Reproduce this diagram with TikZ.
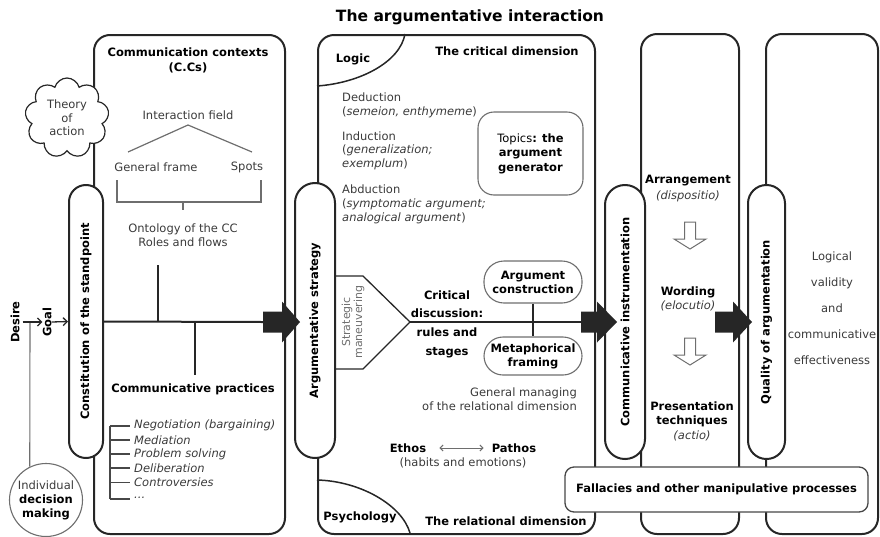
\documentclass[tikz,border=0pt]{standalone}
\usepackage{fontspec}
\setmainfont{DejaVu Sans}
\usetikzlibrary{shapes.symbols,arrows.meta}

\definecolor{ink}{HTML}{262626}
\definecolor{txt}{HTML}{3A3A3A}
\definecolor{soft}{HTML}{6E6E6E}

\newcommand{\fb}{\fontsize{11.5}{14}\selectfont}

% filled block arrow: start x, head x, tip x, axis y
\newcommand{\blockarrow}[4]{%
  \fill[ink] (#1,#4-10.5) -- (#2,#4-10.5) -- (#2,#4-20.5) -- (#3,#4)
    -- (#2,#4+20.5) -- (#2,#4+10.5) -- (#1,#4+10.5) -- cycle;}
% hollow downward arrow: axis x, top y, head y, tip y
\newcommand{\hollowarrow}[4]{%
  \draw[soft, line width=1pt, fill=white] (#1-5.5,#2) -- (#1+5.5,#2) -- (#1+5.5,#3)
    -- (#1+16,#3) -- (#1,#4) -- (#1-16,#3) -- (#1-5.5,#3) -- cycle;}

\begin{document}
\begin{tikzpicture}[x=1pt,y=-1pt,
  frame/.style={draw=ink, line width=2pt, rounded corners=16pt, inner sep=0pt, anchor=north west},
  pill/.style={draw=ink, line width=2pt, fill=white, rotate=90, inner sep=0pt, font=\fb\bfseries, text=black},
  thinbox/.style={draw=soft, line width=1.1pt, fill=white, inner sep=0pt, align=center, font=\fb\bfseries, text=black},
  lbl/.style={font=\fb, text=txt, inner sep=0pt, align=center},
  blbl/.style={font=\fb\bfseries, text=black, inner sep=0pt, align=center},
  ilbl/.style={font=\fb\itshape, text=txt, inner sep=0pt},
  mainline/.style={draw=ink, line width=2pt},
  guide/.style={draw=soft, line width=1.2pt},
  barb/.style={-{Straight Barb[length=4pt,width=8pt]}},
]
\useasboundingbox (0,0) rectangle (880,536);

% title
\node[blbl, font=\fontsize{15.5}{18}\selectfont\bfseries] (title) at (470,17) {The argumentative interaction};

% the four columns
\node[frame, minimum width=191, minimum height=499] (cc) at (93,34) {};
\node[frame, minimum width=277, minimum height=499] (crit) at (317,34) {};
\node[frame, minimum width=98, minimum height=500] (style) at (640,33) {};
\node[frame, minimum width=112, minimum height=500] (eval) at (765,33) {};

% ---- communication contexts
\node[blbl] (cctitle) at (188,60.5) {Communication contexts\\[1pt](C.Cs)};
\node[lbl] (ifield) at (188,115) {Interaction field};
\coordinate (apex) at (188,125);
\coordinate (gfl) at (128,152);
\coordinate (spr) at (252,152);
\draw[guide] (gfl) -- (apex) -- (spr);
\node[lbl] (gframe) at (156,167) {General frame};
\node[lbl] (spots) at (247,167) {Spots};
\coordinate (bl) at (117,180);
\coordinate (br) at (261,180);
\draw[guide] (bl) -- (117,202) -- (261,202) -- (br);
\draw[guide] (183,202) -- (183,210);
\node[lbl] (onto) at (183,235) {Ontology of the CC\\Roles and flows};

\coordinate (arr1) at (263,322);
\coordinate (upb) at (158,265);
\coordinate (dnb) at (195,375);
\draw[mainline] (upb) -- (upb |- arr1);
\draw[mainline] (dnb |- arr1) -- (dnb);

\node[blbl] (cpract) at (193,389) {Communicative practices};
\draw[draw=ink!85, line width=1.5pt] (110,426) -- (110,499);
\foreach \yy in {426,440,454,468,482.5,499}
  \draw[draw=ink!85, line width=1.5pt] (110,\yy) -- (130,\yy);
\node[ilbl, anchor=west] (neg) at (134,425.5) {Negotiation (bargaining)};
\node[ilbl, anchor=west] (med) at (134,440) {Mediation};
\node[ilbl, anchor=west] (prob) at (134,454) {Problem solving};
\node[ilbl, anchor=west] (delib) at (134,468) {Deliberation};
\node[ilbl, anchor=west] (contro) at (134,482.5) {Controversies};
\node[ilbl, anchor=west] (more) at (134,497.5) {...};

% ---- desire, goal, decision making
\node[blbl, rotate=90] (desire) at (15,322) {Desire};
\node[blbl, rotate=90] (goal) at (47,322) {Goal};
\node[circle, draw=soft, line width=1.1pt, fill=white, minimum size=73, inner sep=0pt,
  align=center, font=\fb, text=txt] (dm) at (46,500)
  {Individual\\\textcolor{black}{\bfseries decision}\\\textcolor{black}{\bfseries making}};
\coordinate (dgj) at (30,322);
\draw[soft, line width=1.1pt] (dgj) -- (dm.116);

% ---- critical / relational dimension
\draw[ink, line width=1.5pt] (405,34) .. controls (400,62) and (360,83) .. (317,86);
\draw[ink, line width=1.5pt] (317,480) .. controls (360,481) and (402,505) .. (410,533);
\node[blbl] (logic) at (353,59) {Logic};
\node[blbl] (critdim) at (507,51) {The critical dimension};
\node[lbl, anchor=west] (ded) at (342,97) {Deduction};
\node[lbl, anchor=west] (ded2) at (342,112) {(\textit{semeion, enthymeme})};
\node[lbl, anchor=west] (ind) at (342,136) {Induction};
\node[lbl, anchor=west] (ind2) at (342,150) {(\textit{generalization;}};
\node[lbl, anchor=west] (ind3) at (342,164) {\textit{exemplum})};
\node[lbl, anchor=west] (abd) at (342,189) {Abduction};
\node[lbl, anchor=west] (abd2) at (342,204) {(\textit{symptomatic argument;}};
\node[lbl, anchor=west] (abd3) at (342,218) {\textit{analogical argument})};
\node[thinbox, rounded corners=16pt, minimum width=105, minimum height=83] (topics) at (530.5,153.5)
  {\textmd{Topics}: the\\[0.5pt]argument\\[0.5pt]generator};

\coordinate (smtip) at (410,322);
\draw[ink, line width=1.3pt] (335,276) -- (363,276) -- (smtip) -- (363,369) -- (335,369);
\node[lbl, rotate=90, font=\fontsize{11}{12}\selectfont, text=soft] (strat) at (353,322) {Strategic\\maneuvering};
\coordinate (arr2) at (581,322);
\draw[mainline] (smtip) -- (arr2);
\node[blbl] (critdisc) at (447,324) {Critical\\[4.7pt]discussion:\\[4.7pt]rules and\\[4.7pt]stages};
\node[thinbox, rounded corners=20pt, minimum width=98, minimum height=42] (argcon) at (533,282) {Argument\\construction};
\node[thinbox, rounded corners=19pt, minimum width=98, minimum height=38] (metaph) at (533,356) {Metaphorical\\framing};
\draw[ink, line width=1.5pt] (argcon.south) -- (metaph.north);
\node[lbl, anchor=east, align=right] (genman) at (577,399) {General managing\\of the relational dimension};
\node[blbl] (ethos) at (408,448) {Ethos};
\node[blbl] (pathos) at (514,448) {Pathos};
\draw[soft, line width=1pt, {Straight Barb[length=3pt,width=6pt]}-{Straight Barb[length=3pt,width=6pt]}]
  ([xshift=13pt]ethos.east) -- ([xshift=-8pt]pathos.west);
\node[lbl] (habits) at (463,463) {(habits and emotions)};
\node[blbl] (psych) at (360,517) {Psychology};
\node[blbl] (reldim) at (506,521) {The relational dimension};

% ---- style of presentation
\node[blbl] (arrange) at (688,181) {Arrangement};
\node[ilbl] (dispo) at (688,196) {(dispositio)};
\hollowarrow{690}{222}{239}{249}
\node[blbl] (wording) at (688,292) {Wording};
\node[ilbl] (elocu) at (688,306) {(elocutio)};
\hollowarrow{690}{338}{355}{365}
\node[blbl] (present) at (692,414.5) {Presentation\\techniques};
\node[ilbl] (actio) at (692,436) {(actio)};

% ---- evaluation
\node[lbl] (criteria) at (832,308) {Logical\\[12pt]validity\\[12pt]and\\[12pt]communicative\\[12pt]effectiveness};

% ---- pills on the column borders
\node[pill, minimum width=273, minimum height=34, rounded corners=16.9pt] (stand) at (86,321.5) {Constitution of the standpoint};
\node[pill, minimum width=275, minimum height=40, rounded corners=19.9pt] (strategy) at (315,320.5) {Argumentative strategy};
\node[pill, minimum width=274, minimum height=40, rounded corners=19.9pt] (instr) at (625,322) {Communicative instrumentation};
\node[pill, minimum width=274, minimum height=37, rounded corners=18.4pt] (quality) at (766.5,322) {Quality of argumentation};

\draw[mainline] (stand.south) -- (arr1);
\draw[ink, line width=1.3pt, barb] ([xshift=3pt]desire.south) -- (goal.north);
\draw[ink, line width=1.3pt, barb] (goal.south) -- (stand.north);

% ---- block arrows between the stages
\blockarrow{263}{282}{300}{322}
\blockarrow{581}{597}{617}{322}
\blockarrow{715}{733}{752}{322}

\node[blbl, draw=ink!85, line width=1.3pt, fill=white, rounded corners=9pt,
  minimum width=303, minimum height=45] (fallac) at (716.5,489.5) {Fallacies and other manipulative processes};

% ---- theory of action
\node[cloud, cloud puffs=9, aspect=1.05, draw=ink, line width=1.2pt, fill=white,
  minimum width=84, minimum height=80, inner sep=0pt, align=center,
  font=\fontsize{11.5}{13.5}\selectfont, text=txt] (theory) at (67,118) {Theory\\of\\action};
\end{tikzpicture}
\end{document}
